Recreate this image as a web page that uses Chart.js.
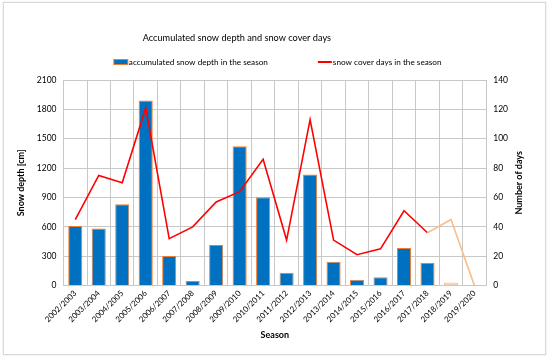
<!DOCTYPE html>
<html>
<head>
<meta charset="utf-8">
<script src="https://cdn.jsdelivr.net/npm/chart.js@4.4.0/dist/chart.umd.min.js"></script>
<style>
  body { margin: 0; background: #fff; }
  #wrap { position: relative; width: 550px; height: 360px; }
  #frame { position: absolute; left: 3px; top: 2px; width: 541px; height: 351px; border: 1px solid #d9d9d9; box-shadow: 0 0 2px #e0e0e0; pointer-events: none; }
</style>
</head>
<body>
<div id="wrap">
  <canvas id="myChart"></canvas>
  <div id="frame"></div>
</div>
<script>
// data
var seasons = ['2002/2003', '2003/2004', '2004/2005', '2005/2006', '2006/2007', '2007/2008',
  '2008/2009', '2009/2010', '2010/2011', '2011/2012', '2012/2013', '2013/2014',
  '2014/2015', '2015/2016', '2016/2017', '2017/2018', '2018/2019', '2019/2020'];
var snowDepth = [610, 584, 831, 1890, 302, 48, 415, 1424, 903, 131, 1136, 244, 59, 85, 384, 230, 31, 3];
var coverDays = [45, 75, 70, 121, 32, 40, 57, 64, 86, 31, 113, 31, 21, 25, 51, 36, 45, 0];
var depthTicks = [0, 300, 600, 900, 1200, 1500, 1800, 2100];
var dayTicks = [0, 20, 40, 60, 80, 100, 120, 140];

var chartTitle = 'Accumulated snow depth and snow cover days';
var depthLabel = 'accumulated snow depth in the season';
var daysLabel = 'snow cover days in the season';
var leftTitle = 'Snow depth [cm]';
var rightTitle = 'Number of days';
var xTitle = 'Season';

var lastFull = 15; // seasons after this one are drawn pale

var blue = '#0070c0', orange = '#ed7d31';
var paleFill = '#f8cbad', paleLine = '#f8bf8c';
var fontFam = 'Lato, "Open Sans", sans-serif';

Chart.defaults.font.family = fontFam;
Chart.defaults.font.size = 8.5;
Chart.defaults.color = '#000';

// title, legend and right axis title drawn by hand
var extras = {
  id: 'extras',
  afterDraw: function (chart) {
    var ctx = chart.ctx, a = chart.chartArea;
    var mid = (a.left + a.right) / 2;
    ctx.save();
    ctx.fillStyle = '#000';
    ctx.textBaseline = 'middle';
    ctx.font = '9.2px ' + fontFam;
    ctx.textAlign = 'center';
    ctx.fillText(chartTitle, mid - 38, a.top - 42);

    ctx.font = '8.2px ' + fontFam;
    ctx.textAlign = 'left';
    var ly = a.top - 18;
    ctx.fillStyle = blue;
    ctx.fillRect(mid - 161, ly - 2.5, 14, 5);
    ctx.strokeStyle = orange;
    ctx.lineWidth = 1;
    ctx.strokeRect(mid - 161, ly - 2.5, 14, 5);
    ctx.fillStyle = '#000';
    ctx.fillText(depthLabel, mid - 146, ly);

    ctx.strokeStyle = '#ff0000';
    ctx.lineWidth = 2;
    ctx.beginPath();
    ctx.moveTo(mid + 43, ly);
    ctx.lineTo(mid + 57, ly);
    ctx.stroke();
    ctx.fillText(daysLabel, mid + 58, ly);

    ctx.translate(a.right + 33, (a.top + a.bottom) / 2);
    ctx.rotate(-Math.PI / 2);
    ctx.textAlign = 'center';
    ctx.font = 'bold 9px ' + fontFam;
    ctx.fillText(rightTitle, 0, 0);
    ctx.restore();
  }
};

function plain(v) { return String(v); }

var ctx = document.getElementById('myChart').getContext('2d');
var myChart = new Chart(ctx, {
  type: 'bar',
  data: {
    labels: seasons,
    datasets: [{
      label: depthLabel,
      data: snowDepth,
      yAxisID: 'y',
      order: 1,
      backgroundColor: snowDepth.map(function (v, i) { return i > lastFull ? paleFill : blue; }),
      borderColor: snowDepth.map(function (v, i) { return i > lastFull ? paleLine : orange; }),
      borderWidth: 1,
      categoryPercentage: 0.8,
      barPercentage: 0.75
    }, {
      type: 'line',
      label: daysLabel,
      data: coverDays,
      yAxisID: 'y1',
      order: 0,
      borderColor: '#ff0000',
      borderWidth: 1.6,
      pointRadius: 0,
      tension: 0,
      segment: {
        borderColor: function (c) { return c.p0DataIndex >= lastFull ? paleLine : '#ff0000'; }
      }
    }]
  },
  options: {
    responsive: true,
    maintainAspectRatio: false,
    animation: false,
    layout: { padding: { top: 80, left: 9, right: 35, bottom: 16 } },
    plugins: {
      legend: { display: false },
      tooltip: { enabled: false }
    },
    scales: {
      x: {
        grid: { color: '#c8c8c8', offset: true, drawTicks: false },
        border: { color: '#c8c8c8' },
        ticks: { minRotation: 45, maxRotation: 45, padding: 3, font: { size: 8 } },
        title: { display: true, text: xTitle, font: { weight: 'bold', size: 9 }, padding: { top: 2 } }
      },
      y: {
        position: 'left',
        min: 0, max: 2100,
        afterBuildTicks: function (s) { s.ticks = depthTicks.map(function (v) { return { value: v }; }); },
        grid: { color: '#c8c8c8', drawTicks: false },
        border: { color: '#c8c8c8' },
        ticks: { padding: 7, callback: plain },
        title: { display: true, text: leftTitle, font: { weight: 'bold', size: 9 }, padding: { top: 7, bottom: 3 } }
      },
      y1: {
        position: 'right',
        min: 0, max: 140,
        afterBuildTicks: function (s) { s.ticks = dayTicks.map(function (v) { return { value: v }; }); },
        grid: { drawOnChartArea: false, drawTicks: false },
        border: { display: false },
        ticks: { padding: 7, callback: plain }
      }
    }
  },
  plugins: [extras]
});
</script>
</body>
</html>
